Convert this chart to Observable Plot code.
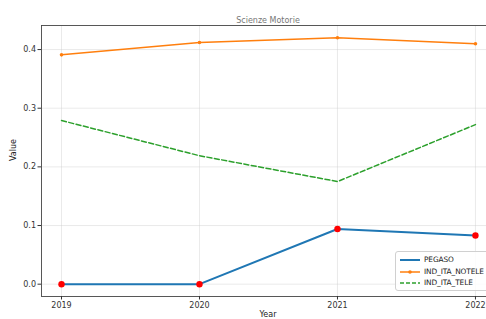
<!DOCTYPE html>
<html><head><meta charset="utf-8">
<script src="https://cdn.jsdelivr.net/npm/d3@7"></script>
<script src="https://cdn.jsdelivr.net/npm/@observablehq/plot@0.6"></script>
<style>
body{margin:0;background:#fff;}
#wrap{position:relative;width:486px;height:319px;overflow:hidden;font-family:"DejaVu Sans",sans-serif;}
#legend{position:absolute;left:395px;top:251px;width:110px;height:38px;border:1px solid #d0d0d0;border-radius:3px;background:rgba(255,255,255,0.85);font-size:7.4px;color:#222;}
.row{position:absolute;left:0;height:12px;line-height:12px;}
.row svg{position:absolute;left:3px;top:0;}
.row span{position:absolute;left:28px;white-space:nowrap;letter-spacing:-0.1px;}
</style></head>
<body><div id="wrap"></div>
<script>
const years = [2019, 2020, 2021, 2022];
const pegaso = [0, 0, 0.094, 0.083];
const indItaNotele = [0.391, 0.412, 0.420, 0.410];
const indItaTele = [0.279, 0.219, 0.175, 0.272];
const seriesNames = ["PEGASO", "IND_ITA_NOTELE", "IND_ITA_TELE"];
const colors = ["#1f77b4", "#ff7f0e", "#2ca02c"];
const yTicks = [0, 0.1, 0.2, 0.3, 0.4];

const rows = (vals) => years.map((y, i) => ({year: y, value: vals[i]}));
const xDom = [2018.855, 2022.08];
const yDom = [-0.021, 0.441];

const chart = Plot.plot({
  width: 486, height: 319,
  marginLeft: 41, marginRight: 0, marginTop: 25, marginBottom: 23,
  style: {fontFamily: "DejaVu Sans, sans-serif", fontSize: "8px", color: "#333", background: "white"},
  x: {domain: xDom},
  y: {domain: yDom},
  marks: [
    Plot.gridX(years, {stroke: "#ccc", strokeOpacity: 0.7, strokeWidth: 0.6}),
    Plot.gridY(yTicks, {stroke: "#ccc", strokeOpacity: 0.7, strokeWidth: 0.6}),
    Plot.line(rows(pegaso), {x: "year", y: "value", stroke: colors[0], strokeWidth: 2}),
    Plot.line(rows(indItaNotele), {x: "year", y: "value", stroke: colors[1], strokeWidth: 1.5}),
    Plot.dot(rows(indItaNotele), {x: "year", y: "value", fill: colors[1], r: 1.8}),
    Plot.line(rows(indItaTele), {x: "year", y: "value", stroke: colors[2], strokeWidth: 1.5, strokeDasharray: "5,2.5"}),
    Plot.dot(rows(pegaso), {x: "year", y: "value", fill: "red", r: 3.2}),
    Plot.ruleX([xDom[0]], {stroke: "#444", strokeWidth: 0.9}),
    Plot.ruleY([yDom[0], yDom[1]], {stroke: "#444", strokeWidth: 0.9}),
    Plot.axisX(years, {tickFormat: d => String(d), tickSize: 3.5, tickPadding: 2, label: null, fontSize: 8}),
    Plot.axisY(yTicks, {tickFormat: d3.format(".1f"), tickSize: 3.5, tickPadding: 2, label: null, fontSize: 8}),
    Plot.text(["Value"], {frameAnchor: "left", rotate: -90, dx: -28, fontSize: 8, fill: "#222"}),
    Plot.text(["Year"], {frameAnchor: "bottom", dy: 20, dx: 4, fontSize: 8, fill: "#222"}),
    Plot.text(["Scienze Motorie"], {frameAnchor: "top", dy: -8, dx: 4, fontSize: 8, fill: "#777"})
  ]
});
const wrap = document.getElementById("wrap");
wrap.appendChild(chart);

const legend = document.createElement("div");
legend.id = "legend";
seriesNames.forEach((name, i) => {
  const row = document.createElement("div");
  row.className = "row";
  row.style.top = (2 + i * 11.5) + "px";
  let sample = "";
  if (i === 0) sample = `<line x1="1" y1="6" x2="21" y2="6" stroke="${colors[0]}" stroke-width="2"/>`;
  if (i === 1) sample = `<line x1="1" y1="6" x2="21" y2="6" stroke="${colors[1]}" stroke-width="1.5"/><circle cx="11" cy="6" r="1.8" fill="${colors[1]}"/>`;
  if (i === 2) sample = `<line x1="1" y1="6" x2="21" y2="6" stroke="${colors[2]}" stroke-width="1.5" stroke-dasharray="4,2"/>`;
  row.innerHTML = `<svg width="24" height="12">${sample}</svg><span>${name}</span>`;
  legend.appendChild(row);
});
wrap.appendChild(legend);
</script>
</body></html>
